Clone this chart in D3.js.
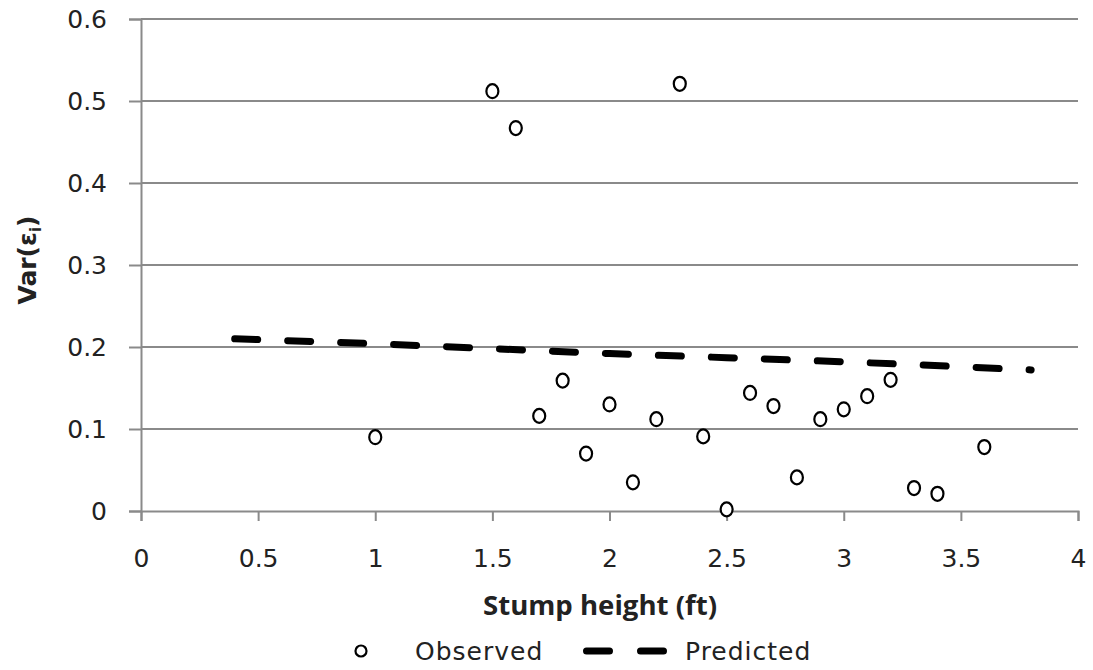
<!DOCTYPE html>
<html>
<head>
<meta charset="utf-8">
<script src="https://cdn.jsdelivr.net/npm/d3@7/dist/d3.min.js"></script>
<style>
  html, body { margin: 0; padding: 0; background: #fff; }
  svg { display: block; }
</style>
</head>
<body>
<script>
// Observed data
const obsX = [1.0, 1.5, 1.6, 1.7, 1.8, 1.9, 2.0, 2.1, 2.2, 2.3, 2.4, 2.5, 2.6, 2.7, 2.8, 2.9, 3.0, 3.1, 3.2, 3.3, 3.4, 3.6];
const obsY = [0.090, 0.512, 0.467, 0.116, 0.159, 0.070, 0.130, 0.035, 0.112, 0.521, 0.091, 0.002, 0.144, 0.128, 0.041, 0.112, 0.124, 0.140, 0.160, 0.028, 0.021, 0.078];
// Predicted curve
const predX = [0.4, 1.0, 1.5, 2.0, 2.5, 3.0, 3.5, 3.8];
const predY = [0.210, 0.204, 0.198, 0.192, 0.187, 0.182, 0.176, 0.172];
// Ticks
const xTicks = [0, 0.5, 1, 1.5, 2, 2.5, 3, 3.5, 4];
const yTicks = [0, 0.1, 0.2, 0.3, 0.4, 0.5, 0.6];

const W = 1093, H = 670;
const svg = d3.select("body").append("svg").attr("width", W).attr("height", H);

const x = d3.scaleLinear().domain([0, 4]).range([141, 1078]);
const y = d3.scaleLinear().domain([0, 0.6]).range([511, 19]);

const gridColor = "#8a8a8a";
const font = "'DejaVu Sans', Verdana, sans-serif";

// Gridlines
svg.append("g").selectAll("line").data(yTicks.filter(d => d > 0)).join("line")
  .attr("x1", x(0)).attr("x2", x(4))
  .attr("y1", d => y(d)).attr("y2", d => y(d))
  .attr("stroke", gridColor).attr("stroke-width", 2);

// Y axis
const yAxis = svg.append("g").attr("transform", `translate(${x(0)},0)`)
  .call(d3.axisLeft(y).tickValues(yTicks).tickSize(12).tickPadding(22)
    .tickFormat(d => d === 0 ? "0" : d3.format(".1f")(d)));
yAxis.select(".domain").attr("stroke", gridColor).attr("stroke-width", 2);
yAxis.selectAll(".tick line").attr("stroke", gridColor).attr("stroke-width", 2);
yAxis.selectAll(".tick text").attr("font-family", font).attr("font-size", 25).attr("fill", "#222");

// X axis
const xAxis = svg.append("g").attr("transform", `translate(0,${y(0)})`)
  .call(d3.axisBottom(x).tickValues(xTicks).tickSize(10).tickPadding(28)
    .tickFormat(d => String(d)));
xAxis.select(".domain").attr("stroke", gridColor).attr("stroke-width", 2);
xAxis.selectAll(".tick line").attr("stroke", gridColor).attr("stroke-width", 2);
xAxis.selectAll(".tick text").attr("font-family", font).attr("font-size", 25).attr("fill", "#222");

// Predicted dashed line
const line = d3.line().x(d => x(d[0])).y(d => y(d[1]));
svg.append("path")
  .datum(predX.map((v, i) => [v, predY[i]]))
  .attr("d", line)
  .attr("fill", "none").attr("stroke", "#000").attr("stroke-width", 7)
  .attr("stroke-linecap", "round").attr("stroke-dasharray", "23,30");

// Observed points
svg.append("g").selectAll("ellipse").data(obsX.map((v, i) => [v, obsY[i]])).join("ellipse")
  .attr("cx", d => x(d[0])).attr("cy", d => y(d[1]))
  .attr("rx", 6).attr("ry", 7)
  .attr("fill", "#fff").attr("stroke", "#000").attr("stroke-width", 2.2);

// X label
svg.append("text")
  .attr("x", 600).attr("y", 615)
  .attr("text-anchor", "middle")
  .attr("font-family", "'Open Sans', sans-serif").attr("font-weight", "bold")
  .attr("font-size", 26).attr("fill", "#222")
  .attr("textLength", 234).attr("lengthAdjust", "spacingAndGlyphs")
  .text("Stump height (ft)");

// Y label
const yl = svg.append("text")
  .attr("transform", "translate(36,260) rotate(-90)")
  .attr("text-anchor", "middle")
  .attr("font-family", font).attr("font-weight", "bold")
  .attr("font-size", 25).attr("fill", "#222");
yl.append("tspan").text("Var(ε");
yl.append("tspan").attr("font-size", 15).attr("dy", 5).text("i");
yl.append("tspan").attr("dy", -5).text(")");

// Legend
const lg = svg.append("g");
lg.append("circle").attr("cx", 361).attr("cy", 651).attr("r", 5.5)
  .attr("fill", "#fff").attr("stroke", "#000").attr("stroke-width", 2.2);
lg.append("text").attr("x", 415).attr("y", 660)
  .attr("font-family", font).attr("font-size", 25).attr("letter-spacing", 1).attr("fill", "#222")
  .text("Observed");
lg.append("line").attr("x1", 586.5).attr("x2", 663.5).attr("y1", 651).attr("y2", 651)
  .attr("stroke", "#000").attr("stroke-width", 7).attr("stroke-linecap", "round")
  .attr("stroke-dasharray", "23,31");
lg.append("text").attr("x", 685).attr("y", 660)
  .attr("font-family", font).attr("font-size", 25).attr("letter-spacing", 1).attr("fill", "#222")
  .text("Predicted");
</script>
</body>
</html>
